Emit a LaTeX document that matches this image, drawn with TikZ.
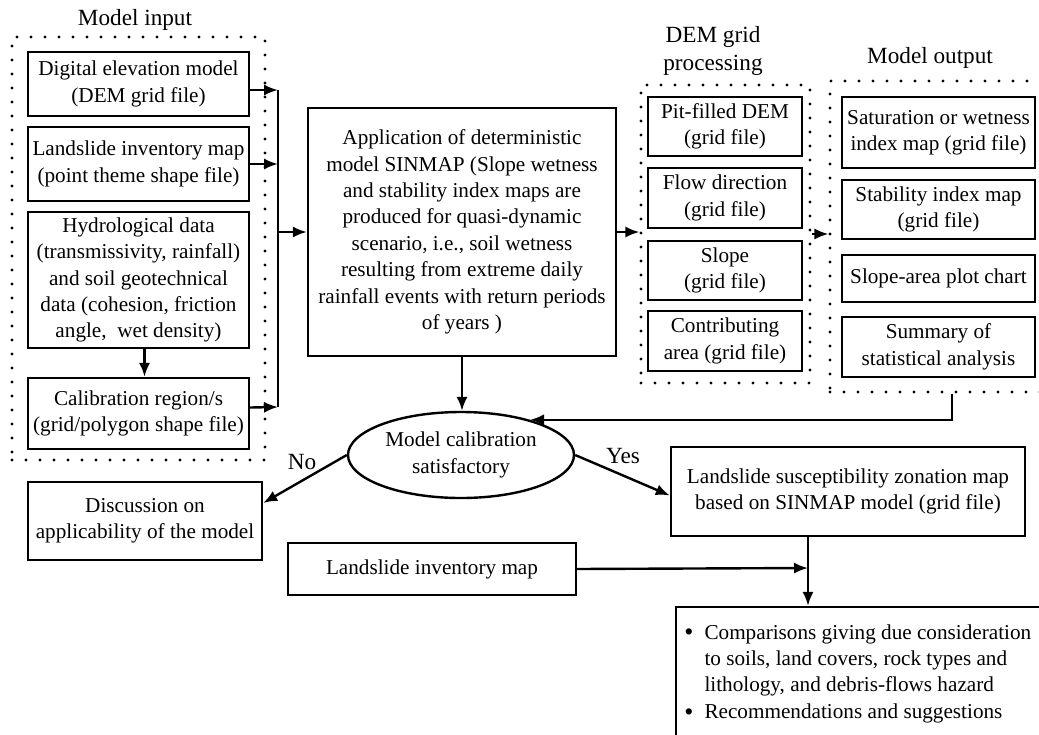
\documentclass[tikz,border=0pt]{standalone}
\usepackage{fontspec}
\setmainfont{Liberation Serif}
\usetikzlibrary{arrows.meta,shapes.geometric}

% a rectangle node given by its corners (in picture units)
\newcommand\bx[6][box]{\node[#1, minimum width={(#5-#3)*0.5pt}, minimum height={(#6-#4)*0.5pt}] (#2) at ({(#3+#5)/2},{(#4+#6)/2})}
\newcommand\bul{\raisebox{-0.9pt}{\fontsize{13}{13}\selectfont\textbullet}}

\begin{document}
\begin{tikzpicture}[x=0.5pt,y=-0.5pt,
  every node/.style={font=\fontsize{10.6}{13.2}\selectfont},
  box/.style={draw, line width=1.2pt, inner sep=0pt, align=center},
  grp/.style={draw, line width=1.6pt, dash pattern=on 0pt off 7pt, line cap=round, inner sep=0pt},
  ttl/.style={align=center, inner sep=0pt, font=\fontsize{11.6}{14}\selectfont},
  arr/.style={line width=1.2pt, -{Latex[length=7pt,width=5.6pt]}},
  ln/.style={line width=1.2pt}
]
\useasboundingbox (0,0) rectangle (1039,734);
\clip (0,0) rectangle (1039,734);

% ---------- model input ----------
\bx[grp]{ingrp}{12}{37}{265}{460} {};
\node[ttl] (inttl) at (135,20) {Model input};
\bx{dem}{28}{52}{249}{116} {Digital elevation model\\(DEM grid file)};
\bx{inv}{28}{127}{249}{201} {Landslide inventory map\\(point theme shape file)};
\bx{hyd}{28}{212}{249}{348} {Hydrological data\\(transmissivity, rainfall)\\and soil geotechnical\\data (cohesion, friction\\angle,\ \ wet density)};
\bx{cal}{28}{378}{249}{449} {Calibration region/s\\(grid/polygon shape file)};

% collecting bus
\coordinate (busT) at (278,90);
\coordinate (busM) at (278,232);
\coordinate (busB) at (278,407);

% ---------- SINMAP application ----------
\bx{main}{308}{108}{616}{356} {Application of deterministic\\model SINMAP (Slope wetness\\and stability index maps are\\produced for quasi-dynamic\\scenario, i.e., soil wetness\\resulting from extreme daily\\rainfall events with return periods\\of years )};

% ---------- DEM grid processing ----------
\bx[grp]{demgrp}{641}{85}{810}{383} {};
\node[ttl] (demttl) at (713,51) {DEM grid\\processing};
\bx{pit}{648}{97}{802}{156} {Pit-filled DEM\\(grid file)};
\bx{flow}{648}{168}{802}{228} {Flow direction\\(grid file)};
\bx{slope}{648}{241}{802}{300} {Slope\\(grid file)};
\bx{contr}{648}{311}{802}{371} {Contributing\\area (grid file)};

% ---------- model output ----------
\bx[grp]{outgrp}{830}{81}{1046}{392} {};
\node[ttl] (outttl) at (930,58) {Model output};
\bx{sat}{842}{97}{1035}{168} {Saturation or wetness\\index map (grid file)};
\bx{stab}{842}{180}{1035}{239} {Stability index map\\(grid file)};
\bx{sap}{842}{255}{1035}{302} {Slope-area plot chart};
\bx{summ}{842}{317}{1035}{377} {Summary of\\statistical analysis};

% ---------- calibration decision ----------
\node[draw, ellipse, line width=1.2pt, minimum width=113pt, minimum height=43pt,
      inner sep=0pt, align=center] (ell) at (461,455) {Model calibration\\satisfactory};
\node[ttl] (no) at (302,462) {No};
\node[ttl] (yes) at (623,456) {Yes};

\bx{disc}{28}{482}{262}{560} {Discussion on\\applicability of the model};
\bx{susc}{671}{447}{1025}{536} {Landslide susceptibility zonation map\\based on SINMAP model (grid file)};
\bx{inv2}{288}{543}{576}{595} {Landslide inventory map};

% ---------- final comparisons ----------
\bx{recbox}{676}{607}{1060}{760} {};
\node[anchor=base west, inner sep=0pt] (rectxt) at (684,639)
  {\begin{tabular}[t]{@{}l@{\hspace{5.5pt}}l@{}}
   \bul & Comparisons giving due consideration\\
        & to soils, land covers, rock types and\\
        & lithology, and debris-flows hazard\\
   \bul & Recommendations and suggestions
   \end{tabular}};
\coordinate (join) at (808,568);

% ---------- connectors ----------
\draw[arr] ([yshift=-3pt]dem.east) -- (busT);
\draw[arr] (inv.east) -- (inv.east -| busT);
\draw[arr] ([yshift=3pt]cal.east) -- (busB);
\draw[ln] (busT) -- (busB);
\draw[arr] (busM) -- (main.west);
\draw[arr] ([xshift=3pt]hyd.south) -- ([xshift=3pt]cal.north);

\draw[arr] (main.east) -- (main.east -| demgrp.west);
\draw[arr] (demgrp.east) -- (demgrp.east -| outgrp.west);

\draw[arr] (main.south) -- (main.south |- ell.north);
\draw[arr] ([xshift=7pt]outgrp.south) |- (ell.27);

\draw[arr] (ell.west) -- ([yshift=9pt]disc.east);
\draw[arr] (ell.east) -- ([yshift=-2pt]susc.west);

\draw[ln] (susc.south -| join) -- (join);
\draw[arr] (inv2.east) -- (join);
\draw[arr] (join) -- (recbox.north -| join);
\end{tikzpicture}
\end{document}
